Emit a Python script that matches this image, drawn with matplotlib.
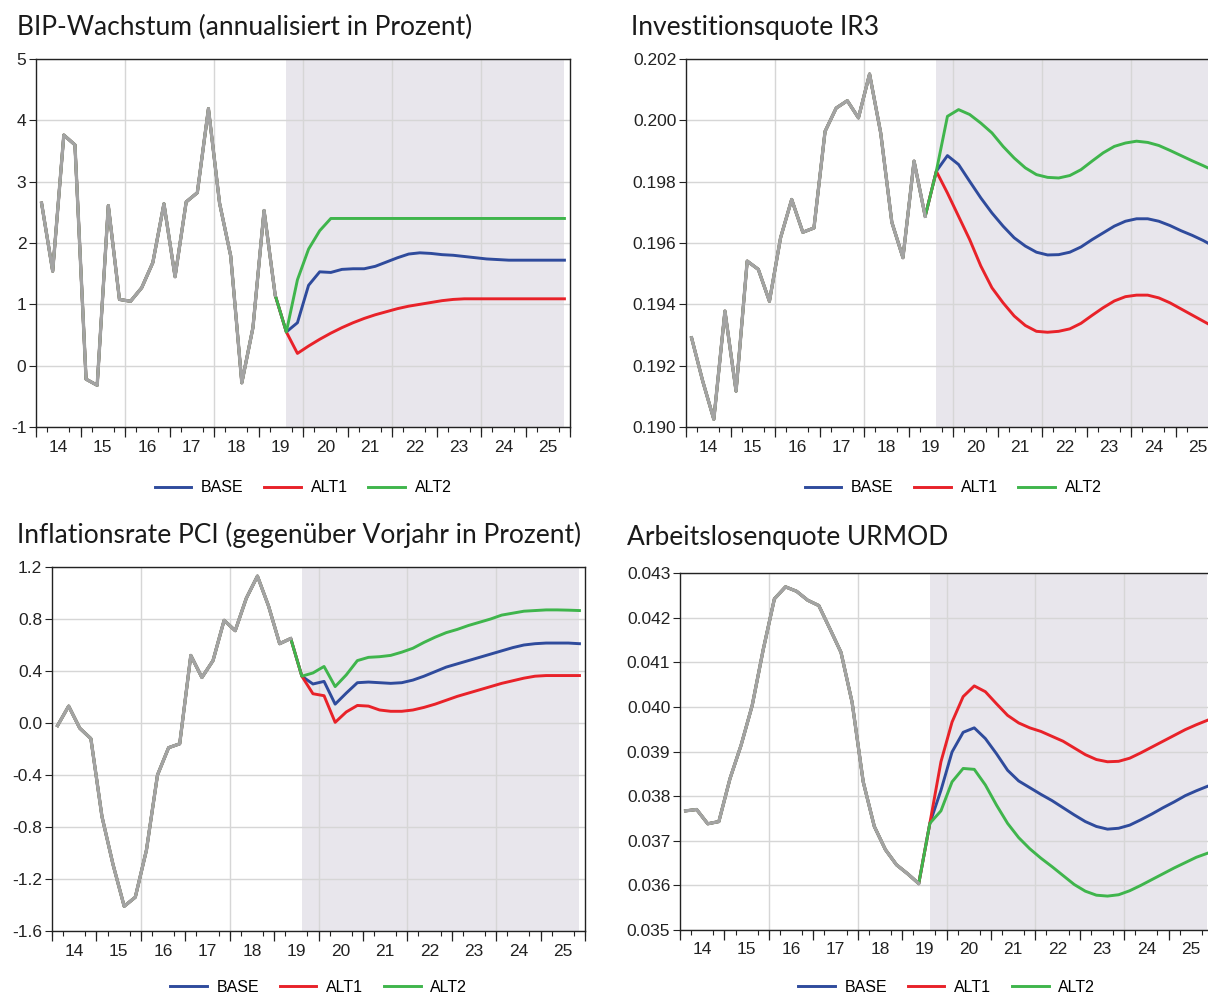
import numpy as np
import matplotlib
matplotlib.use("Agg")
from matplotlib import pyplot as plt

# quarterly data 2014Q1 .. 2025Q4
# history 2014Q1 .. 2019Q2, common point 2019Q3, scenarios 2019Q4 .. 2025Q4

bip_hist = [2.65, 1.54, 3.76, 3.60, -0.22, -0.32, 2.61, 1.08, 1.05, 1.27,
            1.68, 2.64, 1.45, 2.67, 2.82, 4.19, 2.65, 1.79, -0.28, 0.62,
            2.53, 1.15]
bip_common = 0.55
bip_base = [0.70, 1.31, 1.53, 1.52, 1.57, 1.58, 1.58, 1.62, 1.69, 1.76,
            1.82, 1.84, 1.83, 1.81, 1.80, 1.78, 1.76, 1.74, 1.73, 1.72,
            1.72, 1.72, 1.72, 1.72, 1.72]
bip_alt1 = [0.20, 0.32, 0.43, 0.53, 0.62, 0.70, 0.77, 0.83, 0.88, 0.93,
            0.97, 1.00, 1.03, 1.06, 1.08, 1.09, 1.09, 1.09, 1.09, 1.09,
            1.09, 1.09, 1.09, 1.09, 1.09]
bip_alt2 = [1.40, 1.90, 2.20, 2.40, 2.40, 2.40, 2.40, 2.40, 2.40, 2.40,
            2.40, 2.40, 2.40, 2.40, 2.40, 2.40, 2.40, 2.40, 2.40, 2.40,
            2.40, 2.40, 2.40, 2.40, 2.40]

ir3_hist = [0.19291, 0.19150, 0.19025, 0.19378, 0.19117, 0.19541, 0.19514,
            0.19410, 0.19617, 0.19742, 0.19635, 0.19649, 0.19964, 0.20040,
            0.20064, 0.20008, 0.20151, 0.19959, 0.19668, 0.19552, 0.19867,
            0.19687]
ir3_common = 0.19834
ir3_base = [0.19885, 0.19856, 0.19801, 0.19747, 0.19698, 0.19655, 0.19617,
            0.19590, 0.19570, 0.19561, 0.19562, 0.19570, 0.19587, 0.19611,
            0.19633, 0.19655, 0.19671, 0.19679, 0.19679, 0.19671, 0.19657,
            0.19640, 0.19625, 0.19608, 0.19588]
ir3_alt1 = [0.19763, 0.19687, 0.19611, 0.19525, 0.19454, 0.19405, 0.19362,
            0.19331, 0.19312, 0.19309, 0.19312, 0.19320, 0.19338, 0.19364,
            0.19389, 0.19411, 0.19425, 0.19430, 0.19430, 0.19421, 0.19405,
            0.19385, 0.19365, 0.19345, 0.19325]
ir3_alt2 = [0.20013, 0.20035, 0.20019, 0.19991, 0.19959, 0.19915, 0.19877,
            0.19845, 0.19823, 0.19814, 0.19812, 0.19820, 0.19839, 0.19867,
            0.19894, 0.19915, 0.19926, 0.19932, 0.19928, 0.19918, 0.19902,
            0.19885, 0.19868, 0.19852, 0.19835]

pci_hist = [-0.02, 0.13, -0.04, -0.12, -0.72, -1.09, -1.41, -1.34, -0.98,
            -0.40, -0.19, -0.16, 0.52, 0.35, 0.48, 0.79, 0.71, 0.96, 1.13,
            0.90, 0.61, 0.65]
pci_common = 0.36
pci_base = [0.30, 0.32, 0.145, 0.23, 0.31, 0.315, 0.31, 0.305, 0.31, 0.33,
            0.36, 0.395, 0.43, 0.455, 0.48, 0.505, 0.53, 0.555, 0.58, 0.60,
            0.61, 0.615, 0.615, 0.615, 0.61]
pci_alt1 = [0.225, 0.21, 0.005, 0.085, 0.135, 0.13, 0.10, 0.09, 0.09, 0.10,
            0.12, 0.145, 0.175, 0.205, 0.23, 0.255, 0.28, 0.305, 0.325, 0.345,
            0.36, 0.365, 0.365, 0.365, 0.365]
pci_alt2 = [0.385, 0.435, 0.28, 0.37, 0.48, 0.505, 0.51, 0.52, 0.545, 0.575,
            0.62, 0.66, 0.695, 0.72, 0.75, 0.775, 0.80, 0.83, 0.845, 0.86,
            0.865, 0.87, 0.87, 0.868, 0.865]

ur_hist = [0.03767, 0.03770, 0.03738, 0.03743, 0.03839, 0.03914, 0.04003,
           0.04129, 0.04242, 0.04269, 0.04259, 0.04239, 0.04227, 0.04175,
           0.04122, 0.04010, 0.03832, 0.03732, 0.03680, 0.03646, 0.03626,
           0.03604]
ur_common = 0.03739
ur_base = [0.03813, 0.03899, 0.03943, 0.03953, 0.03929, 0.03895, 0.03858,
           0.03834, 0.03819, 0.03804, 0.03790, 0.03774, 0.03758, 0.03743,
           0.03732, 0.03726, 0.03728, 0.03735, 0.03747, 0.03760, 0.03774,
           0.03787, 0.03801, 0.03812, 0.03822]
ur_alt1 = [0.03877, 0.03966, 0.04023, 0.04047, 0.04034, 0.04007, 0.03981,
           0.03964, 0.03953, 0.03945, 0.03934, 0.03923, 0.03908, 0.03893,
           0.03882, 0.03877, 0.03878, 0.03885, 0.03897, 0.03910, 0.03923,
           0.03936, 0.03949, 0.03960, 0.03970]
ur_alt2 = [0.03767, 0.03832, 0.03862, 0.03860, 0.03825, 0.03780, 0.03739,
           0.03707, 0.03682, 0.03661, 0.03642, 0.03622, 0.03602, 0.03587,
           0.03578, 0.03576, 0.03579, 0.03588, 0.03600, 0.03613, 0.03626,
           0.03639, 0.03651, 0.03663, 0.03672]

titles = ["BIP-Wachstum (annualisiert in Prozent)",
          "Investitionsquote IR3",
          "Inflationsrate PCI (gegenüber Vorjahr in Prozent)",
          "Arbeitslosenquote URMOD"]
year_labels = [str(y) for y in range(14, 26)]
series_names = ["BASE", "ALT1", "ALT2"]

C_BASE = "#2f4b9c"
C_ALT1 = "#e82229"
C_ALT2 = "#3fb54c"
C_HIST = "#a3a3a3"
C_SHADE = "#e8e6ec"
C_GRID = "#d6d6d6"

W, H = 1208, 994
TICK_FONT = "Liberation Sans"
TITLE_FONT = "Lato"


def px_rect(left, top, right, bottom):
    return [left / W, 1 - bottom / H, (right - left) / W, (bottom - top) / H]


def draw_panel(ax, hist, common, base, alt1, alt2, ylim, yticks, yfmt,
               legend_y):
    n_hist = len(hist)
    n_all = n_hist + 1 + len(base)
    x = 2014 + (np.arange(n_all) + 0.5) / 4.0
    start = x[n_hist]  # first scenario quarter (2019Q3)

    ax.axvspan(start, x[-1], color=C_SHADE, lw=0, zorder=0)
    for yr in [2016, 2018, 2020, 2022, 2024]:
        ax.axvline(yr, color=C_GRID, lw=1.0, zorder=1)
    for yv in yticks:
        ax.axhline(yv, color=C_GRID, lw=1.0, zorder=1)

    lines = []
    for vals, col in [(base, C_BASE), (alt1, C_ALT1), (alt2, C_ALT2)]:
        full = list(hist) + [common] + list(vals)
        ln, = ax.plot(x, full, color=col, lw=2.1, zorder=3)
        lines.append(ln)
    ax.plot(x[:n_hist], hist, color=C_HIST, lw=2.4, zorder=4)

    ax.set_xlim(2014, 2026)
    ax.set_ylim(ylim)
    ax.set_yticks(yticks)
    ax.set_yticklabels([yfmt.format(v) for v in yticks],
                       fontname=TICK_FONT, fontsize=12.5)
    ax.tick_params(axis="y", direction="out", length=5, width=0.8,
                   colors="#222222", pad=2)

    ax.set_xticks(np.arange(2014, 2026) + 0.5)
    ax.set_xticklabels(year_labels, fontname=TICK_FONT, fontsize=12.5)
    ax.tick_params(axis="x", which="major", length=0, pad=9,
                   colors="#222222")
    ax.set_xticks(np.arange(2014, 2026.01, 0.25), minor=True)
    ax.tick_params(axis="x", which="minor", direction="out", length=3.5,
                   width=0.8, color="#222222")
    sec = ax.secondary_xaxis("bottom")
    sec.set_xticks(np.arange(2014, 2027))
    sec.set_xticklabels([])
    sec.tick_params(direction="out", length=7, width=0.9, color="#222222")
    sec.spines["bottom"].set_visible(False)

    for sp in ax.spines.values():
        sp.set_color("#222222")
        sp.set_linewidth(1.0)

    ax.legend(lines, series_names, loc="center",
              bbox_to_anchor=(0.5, legend_y), ncol=3, frameon=False,
              borderpad=0, handlelength=2.3, columnspacing=1.3,
              handletextpad=0.6,
              prop={"family": TICK_FONT, "size": 11.5})


fig = plt.figure(figsize=(W / 100, H / 100), dpi=100)

ax1 = fig.add_axes(px_rect(36, 59, 570, 427))
draw_panel(ax1, bip_hist, bip_common, bip_base, bip_alt1, bip_alt2,
           (-1, 5), [-1, 0, 1, 2, 3, 4, 5], "{:.0f}", -61 / 368)

ax2 = fig.add_axes(px_rect(686, 59, 1220, 427))
draw_panel(ax2, ir3_hist, ir3_common, ir3_base, ir3_alt1, ir3_alt2,
           (0.190, 0.202), [0.190, 0.192, 0.194, 0.196, 0.198, 0.200, 0.202],
           "{:.3f}", -61 / 368)

ax3 = fig.add_axes(px_rect(52, 567, 585, 931))
draw_panel(ax3, pci_hist, pci_common, pci_base, pci_alt1, pci_alt2,
           (-1.6, 1.2), [-1.6, -1.2, -0.8, -0.4, 0.0, 0.4, 0.8, 1.2],
           "{:.1f}", -56 / 364)

ax4 = fig.add_axes(px_rect(680, 573, 1213, 930))
draw_panel(ax4, ur_hist, ur_common, ur_base, ur_alt1, ur_alt2,
           (0.035, 0.043),
           [0.035, 0.036, 0.037, 0.038, 0.039, 0.040, 0.041, 0.042, 0.043],
           "{:.3f}", -57 / 357)

title_pos = [(17, 27), (631, 27), (17, 535), (627, 537)]
for t, (tx, ty) in zip(titles, title_pos):
    fig.text(tx / W, 1 - ty / H, t, fontname=TITLE_FONT, fontsize=19,
             ha="left", va="center", color="#1a1a1a")

fig.savefig("out.png", dpi=100)
